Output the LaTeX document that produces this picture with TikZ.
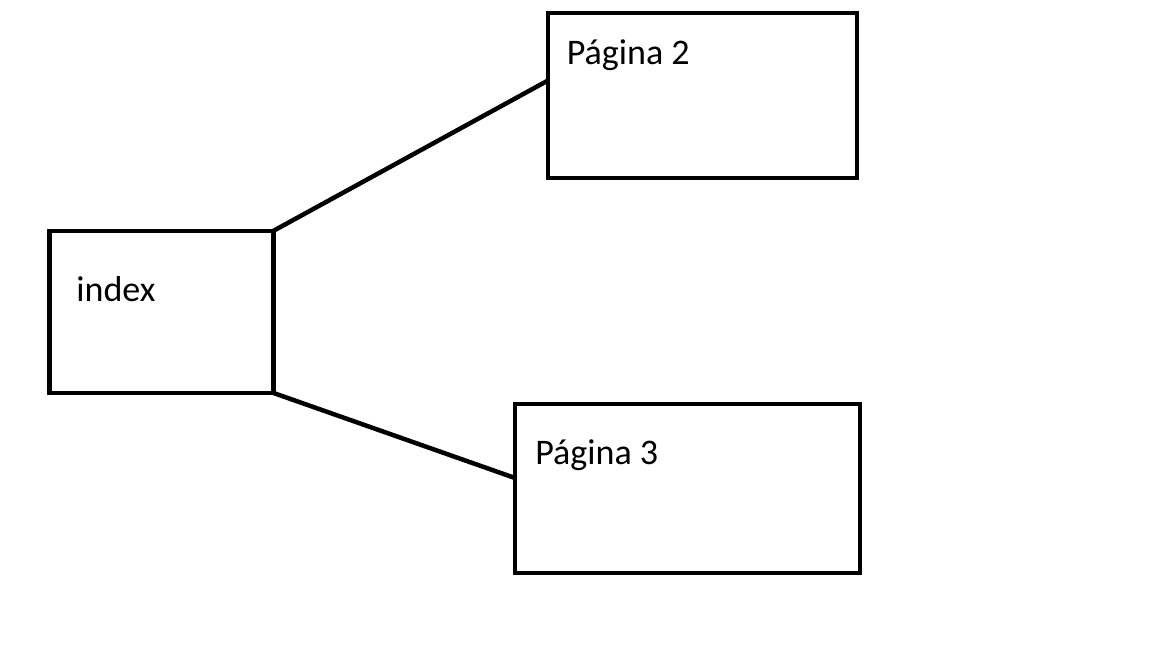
\documentclass[tikz,border=0pt]{standalone}
\usepackage{fontspec}
\setmainfont{Carlito}
\usepackage{tikz}

\begin{document}
\begin{tikzpicture}[auto,
    pagebox/.style ={rectangle, draw, line width=0.095cm, inner sep=0pt, outer sep=0pt},
    pagetext/.style ={anchor=base west, inner sep=0pt, font=\fontsize{20.5pt}{23pt}\selectfont}]
   \useasboundingbox (0,0) rectangle (23.04,-12.96);
   \node[pagebox, minimum width=4.47cm, minimum height=3.24cm] (I) at (3.231,-6.238) {};
   \node[pagebox, minimum width=6.18cm, minimum height=3.30cm] (P2) at (14.05,-1.91) {};
   \node[pagebox, minimum width=6.90cm, minimum height=3.38cm] (P3) at (13.75,-9.77) {};
   \node[pagetext] (Itxt) at (1.52,-6.02) {index};
   \node[pagetext] (P2txt) at (11.33,-1.29) {Página 2};
   \node[pagetext] (P3txt) at (10.70,-9.28) {Página 3};

   \draw[line width=0.09cm] (I.north east) to ([yshift=0.3cm]P2.west);
   \draw[line width=0.09cm] (I.south east) to ([yshift=0.21cm]P3.west);
 \end{tikzpicture}
\end{document}
